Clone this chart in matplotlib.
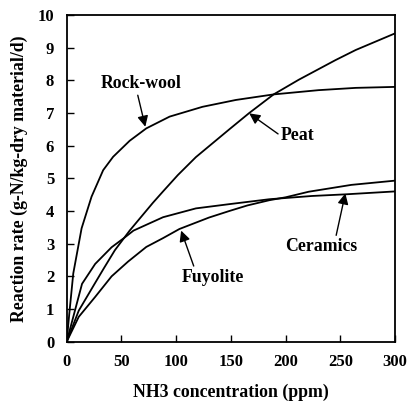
import matplotlib
matplotlib.use("Agg")
import matplotlib.pyplot as plt

plt.rcParams['font.family'] = 'Liberation Serif'
plt.rcParams['font.weight'] = 'bold'

# reaction rate vs NH3 concentration for each packing material
rockwool_x = [0, 2.4, 6, 13.6, 22.7, 33.3, 42.4, 57.5, 72.7, 94, 124, 154.5, 189, 230, 264, 300]
rockwool_y = [0, 0.87, 2.09, 3.47, 4.44, 5.25, 5.66, 6.15, 6.53, 6.89, 7.19, 7.4, 7.57, 7.7, 7.77, 7.8]

peat_x = [0, 11, 26, 34, 44, 57.5, 78.7, 88, 101.5, 118, 148.5, 166.7, 189, 212, 245.5, 264, 300]
peat_y = [0, 0.95, 1.8, 2.25, 2.8, 3.4, 4.25, 4.6, 5.1, 5.65, 6.5, 7.0, 7.57, 8.02, 8.62, 8.93, 9.44]

ceramics_x = [0, 14, 26, 41, 53, 61, 88, 118, 148.5, 185, 224, 254.5, 300]
ceramics_y = [0, 1.77, 2.38, 2.89, 3.19, 3.4, 3.81, 4.08, 4.21, 4.36, 4.46, 4.51, 4.6]

fuyolite_x = [0, 11, 26, 41, 56, 72.7, 88, 103, 130, 148.5, 165, 185, 200, 221, 260, 300]
fuyolite_y = [0, 0.76, 1.37, 2.0, 2.45, 2.9, 3.17, 3.45, 3.8, 4.0, 4.17, 4.33, 4.42, 4.59, 4.8, 4.93]

fig = plt.figure(figsize=(4.08, 4.01), dpi=100)
ax = fig.add_axes([0.1635, 0.148, 0.805, 0.8145])

for xs, ys in [(rockwool_x, rockwool_y), (peat_x, peat_y),
               (ceramics_x, ceramics_y), (fuyolite_x, fuyolite_y)]:
    ax.plot(xs, ys, color='black', linewidth=1.3)

ax.set_xlim(0, 300)
ax.set_ylim(0, 10)
ax.set_xticks(range(0, 301, 50))
ax.set_yticks(range(0, 11))
ax.tick_params(direction='in', length=5, width=1, top=False, right=False,
               labelsize=12, pad=9)
for lbl in ax.get_xticklabels() + ax.get_yticklabels():
    lbl.set_fontweight('bold')
for s in ax.spines.values():
    s.set_linewidth(1.3)

ax.set_xlabel('NH3 concentration (ppm)', fontsize=12.8, fontweight='bold', labelpad=10)
ax.set_ylabel('Reaction rate (g-N/kg-dry material/d)', fontsize=12.8, fontweight='bold', labelpad=7)

arrow = dict(arrowstyle='-|>', color='black', lw=1.0, mutation_scale=16, shrinkA=0, shrinkB=0)
ax.annotate('Rock-wool', xy=(71.8, 6.58), xytext=(68, 7.89), ha='center', va='center',
            fontsize=12.8, fontweight='bold', arrowprops=dict(arrow, relpos=(0.45, 0.0)))
ax.annotate('Peat', xy=(166.7, 6.99), xytext=(211, 6.3), ha='center', va='center',
            fontsize=12.8, fontweight='bold', arrowprops=dict(arrow, relpos=(0.0, 0.5)))
ax.annotate('Ceramics', xy=(254.5, 4.54), xytext=(232.4, 2.91), ha='center', va='center',
            fontsize=12.8, fontweight='bold', arrowprops=dict(arrow, relpos=(0.7, 1.0)))
ax.annotate('Fuyolite', xy=(104.5, 3.4), xytext=(134, 1.97), ha='center', va='center',
            fontsize=12.8, fontweight='bold', arrowprops=dict(arrow, relpos=(0.2, 1.0)))

fig.savefig('out.png', dpi=100)
